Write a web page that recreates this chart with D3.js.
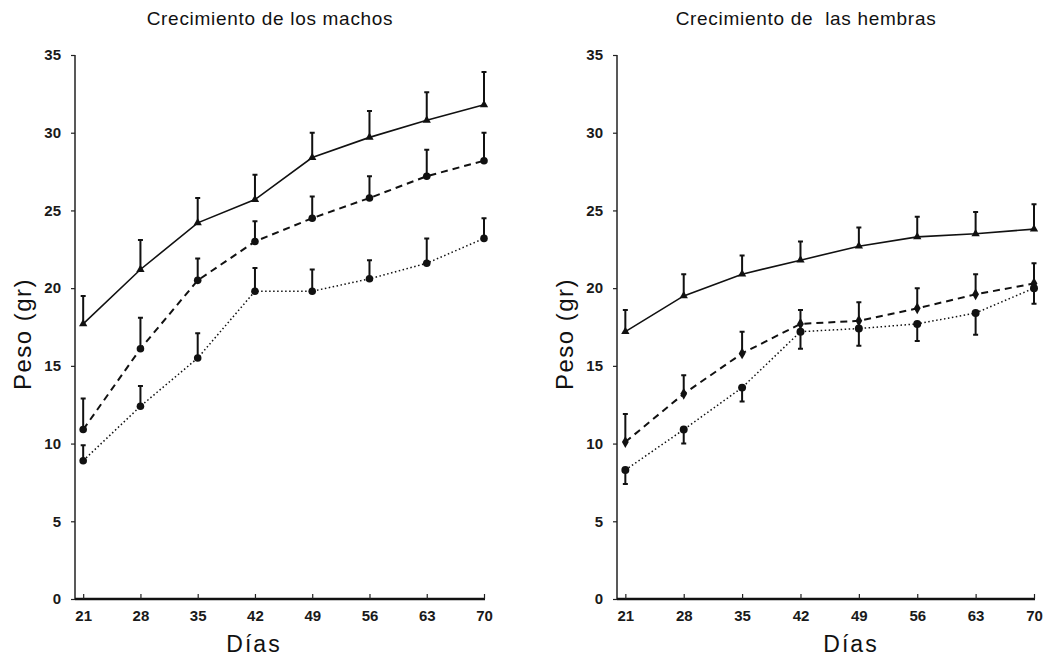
<!DOCTYPE html>
<html>
<head>
<meta charset="utf-8">
<script src="https://cdn.jsdelivr.net/npm/d3@7"></script>
<style>
  body { margin: 0; background: #fff; }
  text { font-family: "Liberation Sans", Arial, sans-serif; fill: #111; }
</style>
</head>
<body>
<div id="myChart"></div>
<script>

// Days on the x axis
var dias = [21, 28, 35, 42, 49, 56, 63, 70];
var yTicks = [0, 5, 10, 15, 20, 25, 30, 35];

// Machos (left)
var machosSolida = [17.7, 21.2, 24.2, 25.7, 28.4, 29.7, 30.8, 31.8];
var machosSolidaDE = [1.8, 1.9, 1.6, 1.6, 1.6, 1.7, 1.8, 2.1];
var machosDiscont = [10.9, 16.1, 20.5, 23.0, 24.5, 25.8, 27.2, 28.2];
var machosDiscontDE = [2.0, 2.0, 1.4, 1.3, 1.4, 1.4, 1.7, 1.8];
var machosPunteada = [8.9, 12.4, 15.5, 19.8, 19.8, 20.6, 21.6, 23.2];
var machosPunteadaDE = [1.0, 1.3, 1.6, 1.5, 1.4, 1.2, 1.6, 1.3];

// Hembras (right)
var hembrasSolida = [17.2, 19.5, 20.9, 21.8, 22.7, 23.3, 23.5, 23.8];
var hembrasSolidaDE = [1.4, 1.4, 1.2, 1.2, 1.2, 1.3, 1.4, 1.6];
var hembrasDiscont = [10.1, 13.2, 15.8, 17.7, 17.9, 18.7, 19.6, 20.3];
var hembrasDiscontDE = [1.8, 1.2, 1.4, 0.9, 1.2, 1.3, 1.3, 1.3];
var hembrasPunteada = [8.3, 10.9, 13.6, 17.2, 17.4, 17.7, 18.4, 20.0];
var hembrasPunteadaDE = [0.9, 0.9, 0.9, 1.1, 1.1, 1.1, 1.4, 1.0];

var width = 1046;
var height = 658;

var canvass = d3.select("#myChart")
	.append("svg")
	.attr("width", width)
	.attr("height", height);

function drawPanel(p) {

	var xScale = d3.scaleLinear().domain([20, 70]).range([p.left, p.right]);
	var yScale = d3.scaleLinear().domain([0, 35]).range([599, 55]);

	var g = canvass.append("g");

	// title
	g.append("text")
		.attr("x", p.titleX)
		.attr("y", 25)
		.attr("text-anchor", "middle")
		.style("font-size", "19px")
		.style("letter-spacing", "0.7px")
		.style("white-space", "pre")
		.text(p.title);

	// y axis
	var yAxis = g.append("g")
		.attr("transform", "translate(" + p.left + ",0)")
		.call(d3.axisLeft(yScale).tickValues(yTicks).tickSize(4).tickPadding(10));
	yAxis.select(".domain").attr("stroke", "#222").attr("stroke-width", 1.5).attr("d", "M0," + yScale(35) + "V" + yScale(0));
	yAxis.selectAll(".tick line").attr("stroke", "#222").attr("stroke-width", 1.2);
	yAxis.selectAll("text").style("font-size", "15px").style("font-weight", "bold").style("fill", "#1a1a1a");

	// x axis, ticks going up
	var xAxis = g.append("g")
		.attr("transform", "translate(0," + yScale(0) + ")")
		.call(d3.axisBottom(xScale).tickValues(dias).tickSize(-5).tickPadding(11));
	xAxis.select(".domain").attr("stroke", "#111").attr("stroke-width", 2.4).attr("d", "M" + p.left + ",0H" + (p.right + 1));
	xAxis.selectAll(".tick line").attr("stroke", "#222").attr("stroke-width", 1.2);
	xAxis.selectAll("text").style("font-size", "15px").style("font-weight", "bold").style("fill", "#1a1a1a");

	// axis labels
	g.append("text")
		.attr("transform", "translate(" + (p.left - 44) + ",334) rotate(-90)")
		.attr("text-anchor", "middle")
		.style("font-size", "24px")
		.style("letter-spacing", "1.5px")
		.text("Peso (gr)");

	g.append("text")
		.attr("x", p.labelX)
		.attr("y", 652)
		.attr("text-anchor", "middle")
		.style("font-size", "23px")
		.style("letter-spacing", "2px")
		.text("Días");

	var line = d3.line()
		.x(function(d, i) { return xScale(dias[i]); })
		.y(function(d) { return yScale(d); });

	p.series.forEach(function(s) {

		// error bars first, under the line
		g.selectAll(null)
			.data(s.values)
			.enter()
			.append("path")
			.attr("stroke", "#111")
			.attr("stroke-width", 2)
			.attr("fill", "none")
			.attr("d", function(d, i) {
				var x = xScale(dias[i]);
				var y2 = yScale(d + s.dir * s.err[i]);
				return "M" + x + "," + yScale(d) + "V" + y2 + "M" + (x - 2.5) + "," + y2 + "H" + (x + 2.5);
			});

		g.append("path")
			.attr("fill", "none")
			.attr("stroke", "#111")
			.attr("stroke-width", s.width)
			.attr("stroke-dasharray", s.dash)
			.attr("d", line(s.values));

		g.selectAll(null)
			.data(s.values)
			.enter()
			.append("path")
			.attr("fill", "#111")
			.attr("transform", function(d, i) { return "translate(" + xScale(dias[i]) + "," + yScale(d) + ")"; })
			.attr("d", d3.symbol().type(s.symbol).size(s.size));
	});
}

drawPanel({
	title: "Crecimiento de los machos",
	titleX: 270,
	labelX: 254,
	left: 75,
	right: 484,
	series: [
		{values: machosSolida, err: machosSolidaDE, dir: 1, dash: null, width: 1.6, symbol: d3.symbolTriangle, size: 30},
		{values: machosDiscont, err: machosDiscontDE, dir: 1, dash: "7,5", width: 2, symbol: d3.symbolCircle, size: 45},
		{values: machosPunteada, err: machosPunteadaDE, dir: 1, dash: "1.5,2.5", width: 1.5, symbol: d3.symbolCircle, size: 45}
	]
});

drawPanel({
	title: "Crecimiento de  las hembras",
	titleX: 806,
	labelX: 851,
	left: 617,
	right: 1034,
	series: [
		{values: hembrasSolida, err: hembrasSolidaDE, dir: 1, dash: null, width: 1.6, symbol: d3.symbolTriangle, size: 30},
		{values: hembrasDiscont, err: hembrasDiscontDE, dir: 1, dash: "7,5", width: 2, symbol: d3.symbolDiamond, size: 40},
		{values: hembrasPunteada, err: hembrasPunteadaDE, dir: -1, dash: "1.5,2.5", width: 1.5, symbol: d3.symbolCircle, size: 50}
	]
});

</script>
</body>
</html>
